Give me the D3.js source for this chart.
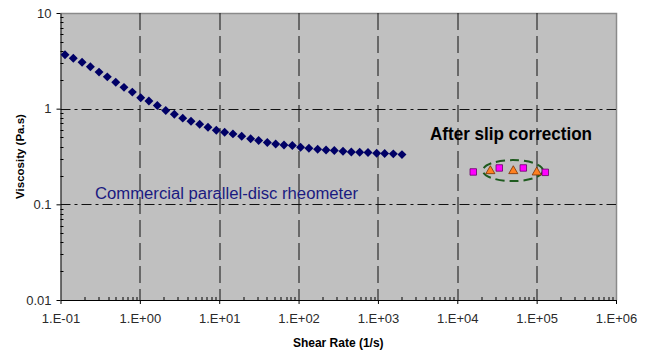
<!DOCTYPE html>
<html>
<head>
<meta charset="utf-8">
<script src="https://cdn.jsdelivr.net/npm/d3@7"></script>
<style>
  body { margin: 0; background: #fff; }
  text { font-family: Arial, "Liberation Sans", sans-serif; }
</style>
</head>
<body>
<div id="chart"></div>
<script>
// rheometer data
var shearRate = [0.114, 0.145, 0.187, 0.238, 0.306, 0.389, 0.497, 0.631, 0.804, 1.025,
  1.30, 1.66, 2.12, 2.72, 3.47, 4.41, 5.67, 7.22, 9.19, 11.7,
  14.9, 19.2, 24.9, 31.4, 40.4, 51.5, 65.5, 83.4, 106, 135,
  174, 222, 282, 363, 462, 589, 750, 964, 1216, 1563, 2009];
var viscosity = [3.66, 3.36, 3.05, 2.74, 2.41, 2.15, 1.89, 1.67, 1.49, 1.30,
  1.20, 1.08, 0.958, 0.875, 0.796, 0.740, 0.688, 0.640, 0.595, 0.568,
  0.545, 0.515, 0.485, 0.465, 0.443, 0.428, 0.418, 0.412, 0.395, 0.386,
  0.376, 0.370, 0.365, 0.359, 0.353, 0.351, 0.348, 0.342, 0.340, 0.337, 0.331];

// after slip correction
var slipRateA = [15900, 33800, 67900, 128500];
var slipViscA = [0.218, 0.240, 0.240, 0.216];
var slipRateB = [26100, 50800, 100200];
var slipViscB = [0.223, 0.223, 0.216];

var xTicks = [0.1, 1, 10, 100, 1000, 1e4, 1e5, 1e6];
var xTickLabels = ["1.E-01", "1.E+00", "1.E+01", "1.E+02", "1.E+03", "1.E+04", "1.E+05", "1.E+06"];
var yTicks = [0.01, 0.1, 1, 10];
var yTickLabels = ["0.01", "0.1", "1", "10"];

var W = 646, H = 355;
var margin = {top: 13, right: 30, bottom: 55, left: 60.5};
var width = 616 - margin.left;
var height = 300 - margin.top;

var x = d3.scaleLog().domain([0.1, 1e6]).range([0, width]);
var y = d3.scaleLog().domain([0.01, 10]).range([height, 0]);

var svg = d3.select("#chart").append("svg")
    .attr("width", W)
    .attr("height", H);

var g = svg.append("g")
    .attr("transform", "translate(" + margin.left + "," + margin.top + ")");

// plot area
g.append("rect")
  .attr("width", width)
  .attr("height", height)
  .attr("fill", "#c0c0c0");

// top / right border
g.append("path")
  .attr("d", "M0,0.5H" + (width + 0.5) + "V" + height)
  .attr("fill", "none")
  .attr("stroke", "#8a8a8a")
  .attr("stroke-width", 1.5);

// gridlines
g.append("g").selectAll("line")
  .data(xTicks.slice(1, -1)).enter()
  .append("line")
  .attr("x1", function(d) { return Math.round(x(d)) + 0.5; })
  .attr("x2", function(d) { return Math.round(x(d)) + 0.5; })
  .attr("y1", 0)
  .attr("y2", height)
  .attr("stroke", "#111")
  .attr("stroke-dasharray", "17,6");

g.append("g").selectAll("line")
  .data(yTicks.slice(1, -1)).enter()
  .append("line")
  .attr("x1", 0)
  .attr("x2", width)
  .attr("y1", function(d) { return Math.round(y(d)) + 0.5; })
  .attr("y2", function(d) { return Math.round(y(d)) + 0.5; })
  .attr("stroke", "#111")
  .attr("stroke-dasharray", "10,4,3,4");

// minor ticks
var xMinor = [], yMinor = [];
for (var e = -1; e < 6; e++) for (var k = 2; k < 10; k++) xMinor.push(k * Math.pow(10, e));
for (var e2 = -2; e2 < 1; e2++) for (var k2 = 2; k2 < 10; k2++) yMinor.push(k2 * Math.pow(10, e2));

g.append("g").selectAll("line")
  .data(xMinor).enter()
  .append("line")
  .attr("x1", function(d) { return Math.round(x(d)) + 0.5; })
  .attr("x2", function(d) { return Math.round(x(d)) + 0.5; })
  .attr("y1", height)
  .attr("y2", height - 3)
  .attr("stroke", "#000");

g.append("g").selectAll("line")
  .data(yMinor).enter()
  .append("line")
  .attr("x1", 0)
  .attr("x2", 3)
  .attr("y1", function(d) { return Math.round(y(d)) + 0.5; })
  .attr("y2", function(d) { return Math.round(y(d)) + 0.5; })
  .attr("stroke", "#000");

// axes
var xAxis = d3.axisBottom(x).tickValues(xTicks)
    .tickFormat(function(d, i) { return xTickLabels[i]; })
    .tickSizeInner(4).tickSizeOuter(0).tickPadding(10);
var yAxis = d3.axisLeft(y).tickValues(yTicks)
    .tickFormat(function(d, i) { return yTickLabels[i]; })
    .tickSizeInner(4).tickSizeOuter(0).tickPadding(5);

var xx = g.append("g")
    .attr("transform", "translate(0," + height + ")")
    .call(xAxis);
var yy = g.append("g")
    .call(yAxis);

[xx, yy].forEach(function(a) {
  a.select(".domain").attr("stroke", "#000");
  a.selectAll(".tick line").attr("stroke", "#000");
  a.selectAll(".tick text")
    .attr("fill", "#2a2a2a")
    .style("font-size", "13px")
    .style("font-family", "Arial, 'Liberation Sans', sans-serif");
});

// axis titles
svg.append("text")
  .text("Viscosity (Pa.s)")
  .attr("transform", "translate(24," + (margin.top + height / 2) + ") rotate(-90)")
  .style("text-anchor", "middle")
  .style("font-weight", "bold")
  .style("font-size", "11.5px");

svg.append("text")
  .text("Shear Rate (1/s)")
  .attr("x", margin.left + width / 2)
  .attr("y", 347)
  .style("text-anchor", "middle")
  .style("font-weight", "bold")
  .style("font-size", "12px");

// rheometer series
var pts = shearRate.map(function(d, i) { return [d, viscosity[i]]; });
g.append("g").selectAll("path")
  .data(pts).enter()
  .append("path")
  .attr("d", d3.symbol().type(d3.symbolSquare).size(40))
  .attr("transform", function(d) { return "translate(" + x(d[0]) + "," + y(d[1]) + ") rotate(45)"; })
  .attr("fill", "#000066");

// slip corrected ellipse
var ex0 = x(21000), ex1 = x(120000), ey0 = y(0.29), ey1 = y(0.175);
g.append("ellipse")
  .attr("cx", (ex0 + ex1) / 2)
  .attr("cy", (ey0 + ey1) / 2)
  .attr("rx", (ex1 - ex0) / 2)
  .attr("ry", (ey1 - ey0) / 2)
  .attr("fill", "none")
  .attr("stroke", "#1e5a1e")
  .attr("stroke-width", 2)
  .attr("stroke-dasharray", "9,5");

var sqPts = slipRateA.map(function(d, i) { return [d, slipViscA[i]]; });
g.append("g").selectAll("path")
  .data(sqPts).enter()
  .append("path")
  .attr("d", d3.symbol().type(d3.symbolSquare).size(42))
  .attr("transform", function(d) { return "translate(" + x(d[0]) + "," + y(d[1]) + ")"; })
  .attr("fill", "#ff00ff")
  .attr("stroke", "#660066")
  .attr("stroke-width", 0.8);

var triPts = slipRateB.map(function(d, i) { return [d, slipViscB[i]]; });
g.append("g").selectAll("path")
  .data(triPts).enter()
  .append("path")
  .attr("d", d3.symbol().type(d3.symbolTriangle).size(36))
  .attr("transform", function(d) { return "translate(" + x(d[0]) + "," + y(d[1]) + ")"; })
  .attr("fill", "#ff8020")
  .attr("stroke", "#7a3000")
  .attr("stroke-width", 0.8);

// annotations
svg.append("text")
  .text("After slip correction")
  .attr("x", 430)
  .attr("y", 140)
  .attr("textLength", 162)
  .attr("lengthAdjust", "spacingAndGlyphs")
  .style("font-weight", "bold")
  .style("font-size", "17.5px")
  .attr("fill", "#000");

svg.append("text")
  .text("Commercial parallel-disc rheometer")
  .attr("x", 95)
  .attr("y", 199)
  .attr("textLength", 263)
  .attr("lengthAdjust", "spacingAndGlyphs")
  .style("font-size", "16px")
  .attr("fill", "#1a1a80");
</script>
</body>
</html>
